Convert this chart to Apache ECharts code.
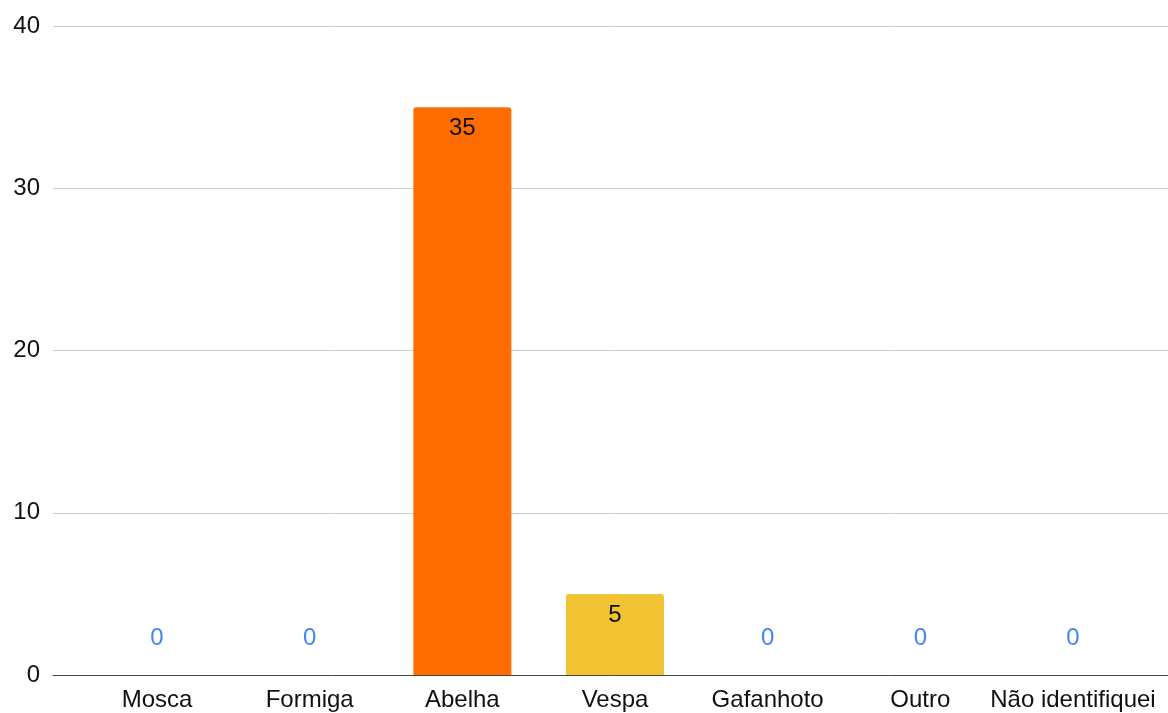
<!DOCTYPE html>
<html>
<head>
<meta charset="utf-8">
<script src="https://cdn.jsdelivr.net/npm/echarts@6/dist/echarts.min.js"></script>
<style>
  html, body { margin: 0; padding: 0; background: #fff; }
  #chart { width: 1168px; height: 713px; }
</style>
</head>
<body>
<div id="chart"></div>
<script>
const categories = ['Mosca', 'Formiga', 'Abelha', 'Vespa', 'Gafanhoto', 'Outro', 'Não identifiquei'];
const counts = [0, 0, 35, 5, 0, 0, 0];
const barColors = ['#FF6D01', '#FF6D01', '#FF6D01', '#F1C232', '#FF6D01', '#FF6D01', '#FF6D01'];
const yTicks = [0, 10, 20, 30, 40];

const FONT = '"Liberation Sans", Arial, Helvetica, sans-serif';

const barData = counts.map((v, i) => ({
  value: v,
  itemStyle: { color: barColors[i], borderRadius: [3, 3, 0, 0] },
  label: v === 0
    ? { position: 'top', distance: 25, color: '#4285F4' }
    : { position: 'insideTop', distance: 9, color: '#111111' }
}));

const chart = echarts.init(document.getElementById('chart'), null, { renderer: 'canvas' });
chart.setOption({
  animation: false,
  backgroundColor: '#ffffff',
  textStyle: { fontFamily: FONT },
  grid: [
    // frame: value axis, gridlines and baseline across the full width
    { left: 53, right: 0, top: 26, bottom: 38, containLabel: false },
    // bars
    { left: 80.7, right: 18.7, top: 26, bottom: 38, containLabel: false }
  ],
  xAxis: [
    {
      gridIndex: 0, type: 'category', data: [''],
      axisLine: { show: true, lineStyle: { color: '#444', width: 1 } },
      axisTick: { show: false }, axisLabel: { show: false }, splitLine: { show: false }
    },
    {
      gridIndex: 1, type: 'category', data: categories,
      axisLine: { show: false }, axisTick: { show: false },
      axisLabel: { color: '#111111', fontSize: 24, fontFamily: FONT, margin: 13, interval: 0 }
    }
  ],
  yAxis: [
    {
      gridIndex: 0, type: 'value', min: yTicks[0], max: yTicks[yTicks.length - 1], interval: 10,
      axisLine: { show: false }, axisTick: { show: false },
      axisLabel: { color: '#111111', fontSize: 24, fontFamily: FONT, margin: 13 },
      splitLine: { show: true, lineStyle: { color: '#cccccc', width: 1 } }
    },
    {
      gridIndex: 1, type: 'value', min: yTicks[0], max: yTicks[yTicks.length - 1], interval: 10,
      show: false, splitLine: { show: false }
    }
  ],
  series: [
    {
      type: 'bar',
      xAxisIndex: 1, yAxisIndex: 1,
      barWidth: 98,
      data: barData,
      label: { show: true, fontSize: 24, fontFamily: FONT }
    }
  ]
});
</script>
</body>
</html>
